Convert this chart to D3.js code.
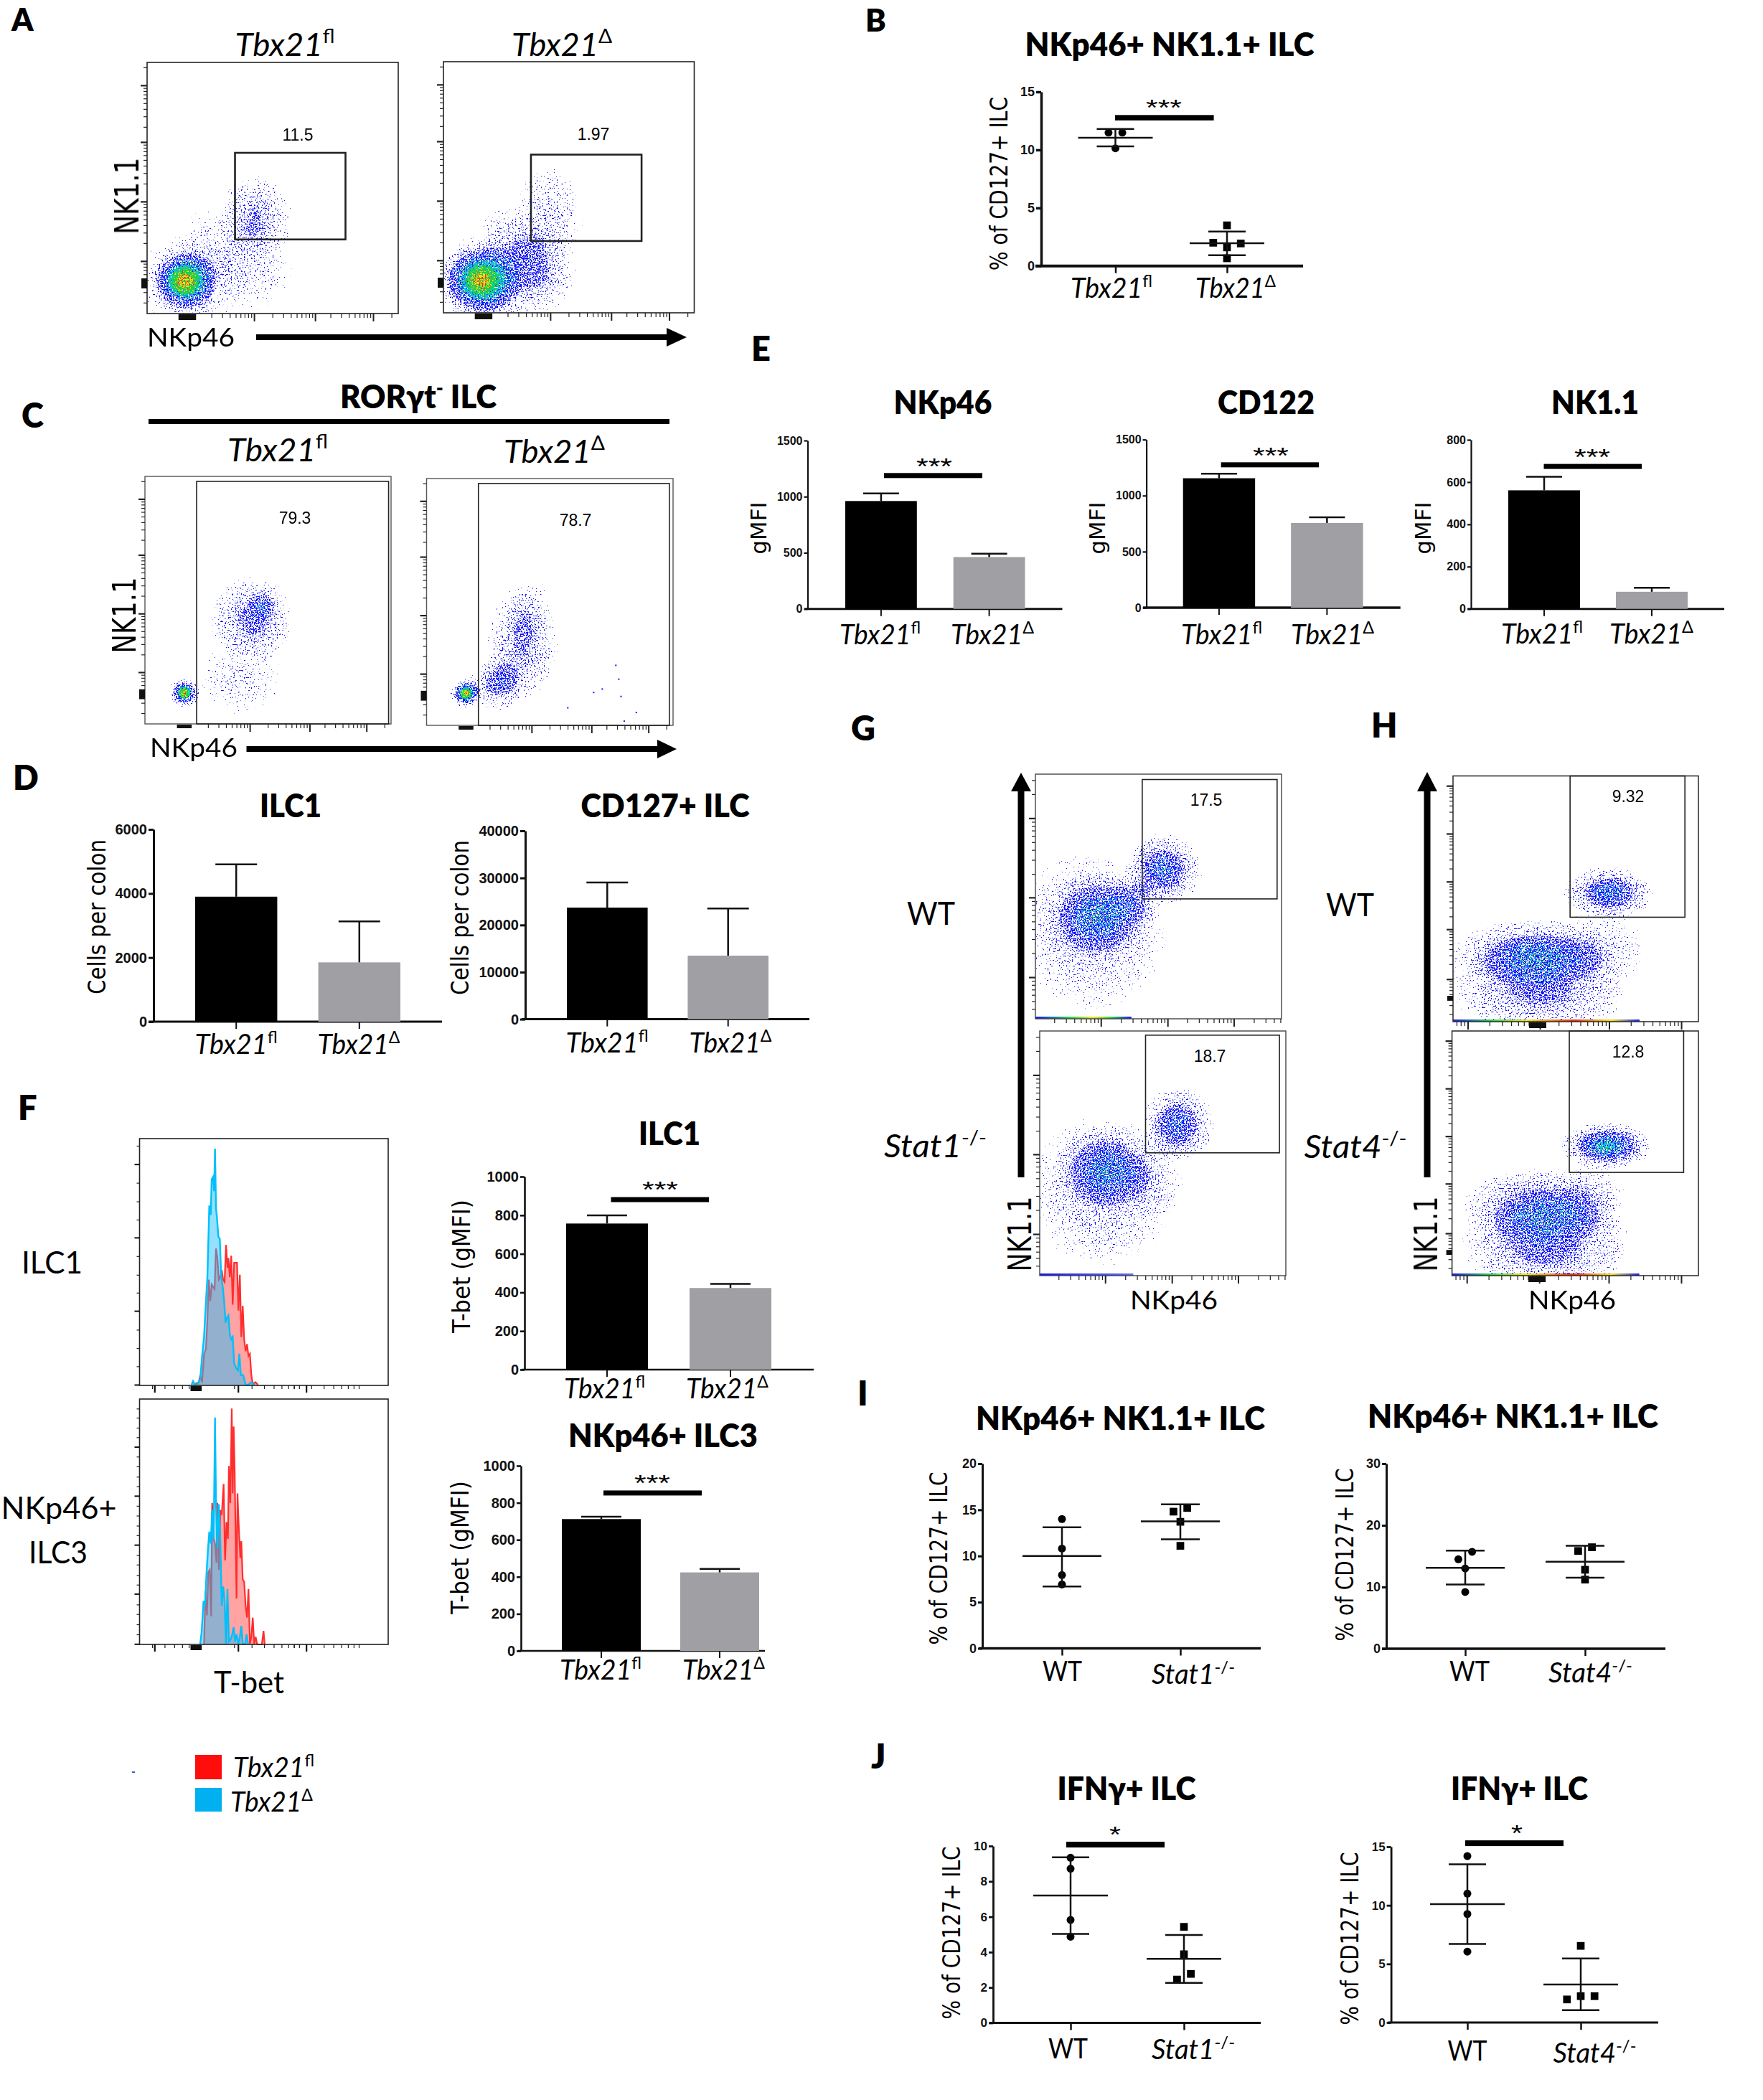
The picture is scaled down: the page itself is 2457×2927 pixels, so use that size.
<!DOCTYPE html>
<html><head><meta charset="utf-8">
<script src="https://cdn.jsdelivr.net/npm/d3@7/dist/d3.min.js"></script>
<style>html,body{margin:0;background:#fff}svg{display:block}</style></head><body>
<script>
/* ---------- DATA ---------- */
const tbxLabels=[["Tbx21",["fl"]],["Tbx21",["Δ"]]];
const stat1Labels=[["WT"],["Stat1",["-/-"]]];
const stat4Labels=[["WT"],["Stat4",["-/-"]]];

// bar charts: means and upper error-bar ends
const dIlc1Mean=[3900,1850],dIlc1Err=[4910,3130],dIlc1Ticks=[0,2000,4000,6000];
const dCd127Mean=[23700,13500],dCd127Err=[29050,23500],dCd127Ticks=[0,10000,20000,30000,40000];
const eNkp46Mean=[961,462],eNkp46Err=[1029,492],eNkp46Ticks=[0,500,1000,1500];
const eCd122Mean=[1155,756],eCd122Err=[1195,807],eCd122Ticks=[0,500,1000,1500];
const eNk11Mean=[561,81],eNk11Err=[625,100],eNk11Ticks=[0,200,400,600,800];
const fIlc1Mean=[757,423],fIlc1Err=[799,444],fIlc3Mean=[712,424],fIlc3Err=[725,443],fTicks=[0,200,400,600,800,1000];

// scatter charts: points [value, jitter rank], mean and SD ends
const bPts=[[[11.49,-1],[11.49,1],[10.14,0]],[[3.5,0],[2.0,-2],[1.94,2],[1.6,0],[0.66,0]]];
const bMean=[11.05,1.96],bHi=[11.8,2.97],bLo=[10.3,0.93],bTicks=[0,5,10,15];
const i1Pts=[[[14,0],[10.8,0],[7.94,0],[6.92,0]],[[15.2,1],[14.8,-1],[13.7,0],[11.1,0]]];
const i1Mean=[10,13.75],i1Hi=[13.1,15.6],i1Lo=[6.7,11.8],i1Ticks=[0,5,10,15,20];
const i2Pts=[[[15.7,1],[14.5,-1],[13,0],[9.2,0]],[[16.45,1],[15.84,-1],[12.8,0],[11.2,0]]];
const i2Mean=[13.1,14.1],i2Hi=[15.9,16.7],i2Lo=[10.4,11.5],i2Ticks=[0,10,20,30];
const j1Pts=[[[9.34,0],[8.72,0],[5.82,0],[4.87,0]],[[5.43,0],[3.88,0],[2.77,1],[2.45,-1]]];
const j1Mean=[7.2,3.62],j1Hi=[9.36,4.97],j1Lo=[5.03,2.26],j1Ticks=[0,2,4,6,8,10];
const j2Pts=[[[14.2,0],[11,0],[9.26,0],[6.05,0]],[[6.54,0],[2.25,0],[1.97,-2],[2.25,2]]];
const j2Mean=[10.1,3.25],j2Hi=[13.5,5.46],j2Lo=[6.7,1.05],j2Ticks=[0,5,10,15];

// histograms: [channel, plot-height reading]
const hist1Cyan=[[232,1050],[238,1035],[246,1050],[258,1045],[268,1025],[276,930],[284,850],[292,700],[298,600],[306,300],[312,340],[316,190],[322,180],[326,240],[330,62],[334,310],[338,350],[344,430],[350,440],[356,600],[362,640],[368,700],[374,790],[380,770],[386,760],[392,840],[398,860],[404,850],[410,960],[418,980],[426,990],[432,920],[438,1010],[448,1010],[458,1050],[470,1050],[480,1040],[495,1050]];
const hist1Red=[[240,1050],[250,1045],[262,1040],[268,1010],[276,1040],[284,920],[292,900],[298,780],[304,610],[310,700],[316,630],[322,640],[328,650],[334,480],[340,520],[346,610],[352,600],[358,570],[364,610],[370,620],[376,465],[382,560],[386,520],[392,600],[398,510],[404,715],[410,540],[416,540],[422,540],[428,740],[434,590],[440,850],[446,720],[452,860],[458,910],[464,880],[470,930],[476,920],[482,1010],[488,1045],[500,1040],[510,1050]];
const hist2Cyan=[[268,1040],[274,990],[282,860],[288,880],[294,750],[300,650],[306,570],[312,620],[318,480],[322,600],[326,450],[330,92],[334,450],[340,640],[346,455],[352,600],[358,880],[364,800],[370,860],[376,1040],[382,810],[388,1030],[396,1020],[402,1000],[408,970],[414,1030],[420,1000],[428,1040],[434,1010],[440,965],[446,1040],[456,1040],[462,1000],[468,1040]];
const hist2Red=[[284,1040],[290,820],[296,920],[302,740],[308,730],[314,925],[318,450],[324,600],[330,620],[336,700],[340,450],[346,730],[352,480],[358,500],[366,370],[372,690],[378,530],[384,600],[388,295],[394,450],[400,55],[404,410],[408,130],[412,300],[420,850],[424,410],[430,560],[436,680],[440,610],[446,770],[452,780],[458,880],[464,930],[470,810],[476,1040],[482,1010],[488,930],[494,1040],[500,1010],[506,1040],[512,1042],[526,1042],[533,985],[538,1042]];

// flow plots: population density: [x, y, rx, ry, density] on 0-100 axes
const a1Pops=[[18,13,22,19,.3],[15,13,14,13,.78],[15,13,6,6,.9],[43,38,15,17,.38],[41,19,17,18,.2],[27,28,15,15,.16]];
const a2Pops=[[15,13,17,15,.78],[15,13,6,6,.9],[20,13,24,20,.34],[38.5,18,15,18,.36],[42,39,14,20,.24],[27.5,29,14,14,.26]];
const c1Pops=[[16,12.6,6.5,6,.8],[16,12.6,2.6,2.6,.85],[43.7,42,17,18,.42],[48,48,7,7,.3],[39,18.5,17,15,.2]];
const c2Pops=[[16,13,6.5,6,.8],[16,13,2.6,2.6,.85],[29,17,12,11,.46],[38.5,32,15,22,.38],[41,46.5,10,14,.2]];
const g1Pops=[[23,36,31,33,.3],[26,42.6,23,18,.46],[52,61,16,15,.56],[40,48,12,11,.24]];
const g2Pops=[[25.7,34.6,30,32,.3],[27,44,21,18,.46],[56,61.6,15,16,.56],[45,38,14,16,.18]];
const h1Pops=[[33,28,34,14,.48],[35.4,15,37,22,.44],[63.6,52.5,19,11,.58],[60,30,18,18,.2]];
const h2Pops=[[35.6,28,33,16,.5],[38,12.6,35,20,.46],[62.6,53,19,10,.68],[55,30,16,17,.2]];
const c2Events=[[76.5,24.6],[77.7,19],[78.6,12],[67.5,13.6],[71,15],[84.8,5.5],[79.9,2],[57,7.4]];
// gates [x0, x1, y0, y1] on 0-100 axes and their percentages
const a1Gate=[35,79,29.5,64],a2Gate=[34.9,79,28.6,63],a1Pct="11.5",a2Pct="1.97";
const c1Gate=[21,99,-2,98],c2Gate=[21.03,98.5,-2,98],c1Pct="79.3",c2Pct="78.7";
const g1Gate=[43.4,98.2,49,97.8],g2Gate=[43,97.4,50.2,98.3],g1Pct="17.5",g2Pct="18.7";
const h1Gate=[47.7,94.5,42.5,100],h2Gate=[47.6,94,42.2,100],h1Pct="9.32",h2Pct="12.8";
// flow axes: decade positions on 0-100 axes
const fineX=[42.6,66.9,90],fineY=[20.9,44.6,68.3,90.9];
const gX=[26.6,53.7,80.6],gY=[17,49.6,82];
const hX=[6,35.4,63.6,93],hY=[17.3,37.6,57,76.5,96];

/* ---------- HELPERS ---------- */
const W=2457,H=2927;
const svg=d3.select("body").append("svg").attr("width",W).attr("height",H).attr("viewBox",`0 0 ${W} ${H}`);
svg.append("rect").attr("width",W).attr("height",H).attr("fill","#fff");
const defs=svg.append("defs");
const LATO="Lato, 'Open Sans', sans-serif",ARIAL="'Liberation Sans', Arial, sans-serif",DEJA="'DejaVu Sans', Verdana, sans-serif";

function T(parts,x,y,o={}){
  parts=Array.isArray(parts)?parts:[parts];
  const t=svg.append("text").attr("text-anchor",o.anchor||"middle")
    .attr("font-family",o.font||LATO).attr("font-size",o.size||36)
    .attr("font-weight",o.weight||"normal").attr("font-style",o.style||"normal").attr("fill",o.fill||"#000");
  let shifted=false;
  parts.forEach(p=>{
    const sup=Array.isArray(p);
    const s=t.append("tspan").text(sup?p[0]:p);
    if(sup){s.attr("font-size",(o.size||36)*.62).attr("dy",-(o.size||36)*.4).attr("font-style","normal");shifted=true;}
    else if(shifted){s.attr("dy",(o.size||36)*.4);shifted=false;}
  });
  let sx=1;
  if(o.w){sx=o.w/t.node().getComputedTextLength();}
  t.attr("transform",`translate(${x},${y}) rotate(${o.rot||0}) scale(${sx},1)`);
  return t;
}
const bold=(s,cx,base,w,size=45)=>T(s,cx,base,{weight:800,w,size});
const panel=(s,x,base,size=47)=>T(s,x,base,{weight:800,size,anchor:"start"});
const ylab=(s,cx,cy,len,size=33)=>T(s,cx,cy,{rot:-90,font:DEJA,size,w:len});
const ital=(p,cx,base,w,size=38)=>T(p,cx,base,{style:"italic",w,size});
const nk=(x,cy,w,size)=>T("NK1.1",x,cy,{rot:-90,font:DEJA,size,w});

function arrowH(x0,x1,y,head,half,th){
  svg.append("path").attr("d",`M${x0},${y-th/2}H${head}V${y-half}L${x1},${y}L${head},${y+half}V${y+th/2}H${x0}Z`).attr("fill","#000");
}
function arrowV(x,y0,y1,head,half,th){
  svg.append("path").attr("d",`M${x-th/2},${y0}V${head}H${x-half}L${x},${y1}L${x+half},${head}H${x+th/2}V${y0}Z`).attr("fill","#000");
}
const sigBar=(x0,x1,y,th)=>svg.append("rect").attr("x",x0).attr("y",y-th/2).attr("width",x1-x0).attr("height",th).attr("fill","#000");
const stars=(s,cx,cy,w)=>T(s,cx,cy+15,{font:ARIAL,size:32,w});

function dress(g,stroke,fontSize,fam){
  g.selectAll("path.domain,line").attr("stroke","#111").attr("stroke-width",stroke);
  g.selectAll("text").attr("font-family",fam||ARIAL).attr("font-weight","bold").attr("font-size",fontSize).attr("fill","#111");
}

function frameAxes(c){
  const y=d3.scaleLinear().domain([0,c.max]).range([c.y0,c.yTop]);
  const ga=svg.append("g").attr("transform",`translate(${c.axX},0)`)
    .call(d3.axisLeft(y).tickValues(c.ticks).tickFormat(d3.format("d")).tickSize(c.tick||6).tickSizeOuter(0).tickPadding(2));
  dress(ga,c.sw||2.5,c.fs||18);
  svg.append("line").attr("x1",c.xStart).attr("x2",c.xEnd).attr("y1",c.y0).attr("y2",c.y0).attr("stroke","#111").attr("stroke-width",c.xsw||c.sw||3);
  return y;
}

function barChart(c){
  const y=frameAxes(c);
  const dom=[0,1];
  const x=d3.scaleBand().domain(dom).range([c.b0,c.b1]).paddingInner(c.gap/(c.barW+c.gap)).paddingOuter(0);
  const ax=svg.append("g").attr("transform",`translate(0,${c.y0})`).call(d3.axisBottom(x).tickSize(10).tickSizeOuter(0).tickFormat(""));
  ax.select("path.domain").remove();ax.selectAll("line").attr("stroke","#111").attr("stroke-width",2);
  svg.append("g").selectAll("rect").data(c.mean).join("rect")
    .attr("x",(d,i)=>x(i)).attr("width",x.bandwidth()).attr("y",d=>y(d)).attr("height",d=>c.y0-y(d))
    .attr("fill",(d,i)=>i?"#a0a0a4":"#000");
  const e=svg.append("g").attr("stroke","#111").attr("stroke-width",2.5);
  c.err.forEach((v,i)=>{
    const cx=x(i)+x.bandwidth()/2;
    e.append("line").attr("x1",cx).attr("x2",cx).attr("y1",y(v)).attr("y2",y(c.mean[i]));
    e.append("line").attr("x1",cx-c.cap).attr("x2",cx+c.cap).attr("y1",y(v)).attr("y2",y(v));
  });
  if(c.sig){sigBar(c.sig[0],c.sig[1],y(c.sig[2]),7);stars("***",c.star[0],y(c.sig[2])-c.star[1],50);}
  return y;
}

function dotChart(c){
  const y=frameAxes(c);
  const x=d3.scalePoint().domain([0,1]).range([c.g0,c.g1]);
  const ax=svg.append("g").attr("transform",`translate(0,${c.y0})`).call(d3.axisBottom(x).tickSize(10).tickSizeOuter(0).tickFormat(""));
  ax.select("path.domain").remove();ax.selectAll("line").attr("stroke","#111").attr("stroke-width",2.5);
  const sym=[d3.symbol().type(d3.symbolCircle).size(95),d3.symbol().type(d3.symbolSquare).size(115)];
  c.pts.forEach((ser,i)=>{
    svg.append("g").selectAll("path").data(ser).join("path").attr("d",sym[i]())
      .attr("transform",d=>`translate(${x(i)+d[1]*9.6},${y(d[0])})`).attr("fill","#000");
    const g=svg.append("g").attr("stroke","#111").attr("stroke-width",2.5),cx=x(i);
    g.append("line").attr("x1",cx).attr("x2",cx).attr("y1",y(c.hi[i])).attr("y2",y(c.lo[i]));
    g.append("line").attr("x1",cx-c.mw).attr("x2",cx+c.mw).attr("y1",y(c.mean[i])).attr("y2",y(c.mean[i]));
    [c.hi[i],c.lo[i]].forEach(v=>g.append("line").attr("x1",cx-c.cw).attr("x2",cx+c.cw).attr("y1",y(v)).attr("y2",y(v)));
  });
  if(c.sig){sigBar(c.sig[0],c.sig[1],y(c.sig[2]),c.sigTh||8);stars(c.starTxt,c.star[0],y(c.sig[2])-c.star[1],c.starW);}
  return y;
}

let fid=0;
const grad=defs.append("radialGradient").attr("id","blob");
[[0,1],[.3,.85],[.6,.52],[.85,.22],[1,0]].forEach(s=>grad.append("stop").attr("offset",s[0]).attr("stop-color","#fff").attr("stop-opacity",s[1]));
// [gain, threshold, colour]
const LEVELS=[[1.2,0,"#1010f5"],[2,.82,"#00c4f0"],[2,1.0,"#1fd04a"],[2,1.4,"#eee21a"],[2,1.6,"#ee2a10"]];

function minors(majors){
  const dec=majors[1]-majors[0],out=[];
  majors.concat([majors[majors.length-1]+dec]).forEach(m=>{
    for(let k=2;k<10;k++){const v=m-dec+dec*Math.log10(k);if(v>0&&v<100)out.push(v);}
  });
  return out;
}

function flow(c){
  const id="f"+(++fid);
  const x=d3.scaleLinear().domain([0,100]).range([c.L,c.R]);
  const y=d3.scaleLinear().domain([0,100]).range([c.B,c.T]);
  // stipple filter: density field -> levels of coloured events
  const f=defs.append("filter").attr("id",id).attr("filterUnits","userSpaceOnUse")
    .attr("x",c.L).attr("y",c.T).attr("width",c.R-c.L).attr("height",c.B-c.T)
    .attr("color-interpolation-filters","sRGB");
  f.append("feTurbulence").attr("type","fractalNoise").attr("baseFrequency",.5).attr("numOctaves",1).attr("seed",fid*7+3).attr("result","t");
  f.append("feColorMatrix").attr("in","t").attr("type","matrix").attr("values","0 0 0 0 1 0 0 0 0 1 0 0 0 0 1 1.6 0 0 0 -.2").attr("result","n");
  // second texture keeps white flecks between the blue events
  f.append("feTurbulence").attr("type","fractalNoise").attr("baseFrequency",.55).attr("numOctaves",1).attr("seed",fid*11+5).attr("result","t2");
  f.append("feColorMatrix").attr("in","t2").attr("type","matrix").attr("values","0 0 0 0 1 0 0 0 0 1 0 0 0 0 1 14 0 0 0 -6").attr("result","cap");
  const names=[];
  LEVELS.forEach((l,i)=>{
    f.append("feComposite").attr("in","SourceAlpha").attr("in2","n").attr("operator","arithmetic")
      .attr("k1",0).attr("k2",l[0]).attr("k3",1).attr("k4",-1-l[1]).attr("result","a"+i);
    f.append("feComponentTransfer").attr("in","a"+i).attr("result","b"+i).append("feFuncA").attr("type","linear").attr("slope",30).attr("intercept",0);
    f.append("feFlood").attr("flood-color",l[2]).attr("result","c"+i);
    f.append("feComposite").attr("in","c"+i).attr("in2","b"+i).attr("operator","in").attr("result","d"+i);
    if(i===0){
      f.append("feComposite").attr("in","d0").attr("in2","cap").attr("operator","in").attr("result","e0");
      names.push("e0");
    } else names.push("d"+i);
  });
  const mg=f.append("feMerge");names.forEach(n=>mg.append("feMergeNode").attr("in",n));

  svg.append("g").attr("filter",`url(#${id})`).selectAll("ellipse").data(c.pops).join("ellipse")
    .attr("cx",d=>x(d[0])).attr("cy",d=>y(d[1])).attr("rx",d=>x(d[2])-x(0)).attr("ry",d=>y(0)-y(d[3]))
    .attr("fill","url(#blob)").attr("opacity",d=>d[4]);
  if(c.events) svg.append("g").selectAll("rect").data(c.events).join("rect")
    .attr("x",d=>x(d[0])).attr("y",d=>y(d[1])).attr("width",2).attr("height",2).attr("fill","#1414ff");
  if(c.pile){
    const gid=id+"p",lg=defs.append("linearGradient").attr("id",gid);
    c.pile.stops.forEach(s=>lg.append("stop").attr("offset",s[0]).attr("stop-color",s[1]));
    svg.append("rect").attr("x",x(0)).attr("y",c.B-3).attr("width",x(c.pile.end)-x(0)).attr("height",3).attr("fill",`url(#${gid})`);
  }
  // frame
  svg.append("rect").attr("x",c.L).attr("y",c.T).attr("width",c.R-c.L).attr("height",c.B-c.T)
    .attr("fill","none").attr("stroke",c.fc||"#222").attr("stroke-width",c.fw||1.6);
  // axes
  const minX=minors(c.xMaj),minY=minors(c.yMaj);
  const fmt=g=>{g.select("path.domain").remove();g.selectAll("line").attr("stroke","#222");};
  svg.append("g").attr("transform",`translate(0,${c.B})`).call(d3.axisBottom(x).tickValues(minX).tickSize(6).tickFormat("")).call(fmt).selectAll("line").attr("stroke-width",1.2);
  svg.append("g").attr("transform",`translate(0,${c.B})`).call(d3.axisBottom(x).tickValues(c.xMaj).tickSize(11).tickFormat("")).call(fmt).selectAll("line").attr("stroke-width",2);
  svg.append("g").attr("transform",`translate(${c.L},0)`).call(d3.axisLeft(y).tickValues(minY).tickSize(5).tickFormat("")).call(fmt).selectAll("line").attr("stroke-width",1.2);
  svg.append("g").attr("transform",`translate(${c.L},0)`).call(d3.axisLeft(y).tickValues(c.yMaj).tickSize(9).tickFormat("")).call(fmt).selectAll("line").attr("stroke-width",2.2);
  if(c.xZero) svg.append("rect").attr("x",x(c.xZero[0])).attr("y",c.B+1).attr("width",x(c.xZero[1])-x(c.xZero[0])).attr("height",c.zh||8).attr("fill","#111");
  if(c.yZero) svg.append("rect").attr("x",c.L-8).attr("y",y(c.yZero[1])).attr("width",8).attr("height",y(c.yZero[0])-y(c.yZero[1])).attr("fill","#111");
  // gate
  const gt=c.gate;
  const y1=Math.min(y(gt[2]),c.B),y0=Math.max(y(gt[3]),c.T);
  svg.append("rect").attr("x",x(gt[0])).attr("y",y0).attr("width",x(gt[1])-x(gt[0])).attr("height",y1-y0)
    .attr("fill","none").attr("stroke","#222").attr("stroke-width",c.gw||2);
  T(c.pct,c.pctAt[0],c.pctAt[1],{font:ARIAL,size:23});
}

/* ---------- PANEL A ---------- */
panel("A",16,43,43);
ital(["Tbx21",["fl"]],397,78,139,44);
ital(["Tbx21",["Δ"]],783,78,140,44);
flow({L:205,R:555,T:87,B:437,pops:a1Pops,gate:a1Gate,pct:a1Pct,pctAt:[415,196],xMaj:fineX,yMaj:fineY,xZero:[12.5,19.5],yZero:[10,14],gw:2.6});
flow({L:618,R:967.5,T:86,B:436,pops:a2Pops,gate:a2Gate,pct:a2Pct,pctAt:[827,195],xMaj:fineX,yMaj:fineY,xZero:[12.5,19.5],yZero:[10,14],gw:2.6});
nk(193,273,107,46);
T("NKp46",266,483,{size:36,w:122});
arrowH(357,957,470,929,13,8);

/* ---------- PANEL B ---------- */
panel("B",1206,44,43);
bold("NKp46+ NK1.1+ ILC",1630,78,403);
dotChart({axX:1451,xStart:1443,xEnd:1816,y0:370.7,yTop:128,max:15,ticks:bTicks,fs:18,sw:3.5,xsw:4,tick:7,
  g0:1554.5,g1:1710,pts:bPts,mean:bMean,hi:bHi,lo:bLo,mw:52,cw:26,sig:[1554,1691.6,12.77],sigTh:7.5,starTxt:"***",star:[1622,18],starW:50});
ylab("% of CD127+ ILC",1404,256,242);
ital(tbxLabels[0],1549,415,114);ital(tbxLabels[1],1722,415,112);

/* ---------- PANEL C ---------- */
panel("C",30,596);
T(["RORγt",["-"]," ILC"],583,569,{weight:800,size:45,w:218});
svg.append("rect").attr("x",207).attr("y",584).attr("width",726).attr("height",7);
ital(["Tbx21",["fl"]],387,643,140,44);
ital(["Tbx21",["Δ"]],772.5,645,141,44);
flow({L:202,R:545,T:664,B:1009,pops:c1Pops,gate:c1Gate,pct:c1Pct,pctAt:[411,730],xMaj:fineX,yMaj:fineY,xZero:[13,19],yZero:[10,14],fc:"#555",fw:1.4,zh:5,gw:1.6});
flow({L:594.5,R:938,T:667,B:1011,pops:c2Pops,gate:c2Gate,pct:c2Pct,pctAt:[802,733],xMaj:fineX,yMaj:fineY,xZero:[13,19],yZero:[10,14],fc:"#555",fw:1.4,zh:5,gw:1.6,events:c2Events});
nk(189,857.5,106,44);
T("NKp46",270,1055,{size:36,w:122});
arrowH(343.5,943,1044,916,13,8);

/* ---------- PANEL D ---------- */
panel("D",18,1101);
bold("ILC1",405,1139,86);bold("CD127+ ILC",927,1139,235);
barChart({axX:214,xStart:207,xEnd:616,y0:1424,yTop:1156,max:6000,ticks:dIlc1Ticks,fs:20,sw:3,tick:7,
  b0:272,b1:558,barW:114,gap:57,mean:dIlc1Mean,err:dIlc1Err,cap:29});
barChart({axX:732,xStart:727,xEnd:1128,y0:1420.6,yTop:1158,max:40000,ticks:dCd127Ticks,fs:20,sw:3,tick:7,
  b0:790,b1:1071,barW:113,gap:56,mean:dCd127Mean,err:dCd127Err,cap:29});
ylab("Cells per colon",147,1278,216);ylab("Cells per colon",653,1279,216);
ital(tbxLabels[0],329,1469,115);ital(tbxLabels[1],500,1469,115);
ital(tbxLabels[0],846,1467,115);ital(tbxLabels[1],1018,1467,115);

/* ---------- PANEL E ---------- */
panel("E",1047,503);
bold("NKp46",1314,577,137);bold("CD122",1764.5,577,135);bold("NK1.1",2223,577,122);
const starE=17;
barChart({axX:1125.5,xStart:1121,xEnd:1480.5,y0:848.7,yTop:614,max:1500,ticks:eNkp46Ticks,fs:16,sw:2.2,xsw:3,tick:5,
  b0:1178,b1:1428.5,barW:100,gap:51,mean:eNkp46Mean,err:eNkp46Err,cap:25,sig:[1232,1369,1188],star:[1302,starE]});
barChart({axX:1597.6,xStart:1593,xEnd:1951.7,y0:847,yTop:612.7,max:1500,ticks:eCd122Ticks,fs:16,sw:2.2,xsw:3.5,tick:5,
  b0:1648.7,b1:1899.6,barW:100.5,gap:50,mean:eCd122Mean,err:eCd122Err,cap:25,sig:[1701.7,1838,1275],star:[1771,starE]});
barChart({axX:2050,xStart:2045.5,xEnd:2403,y0:848.7,yTop:613,max:800,ticks:eNk11Ticks,fs:16,sw:2.2,xsw:3,tick:5,
  b0:2102,b1:2352,barW:100,gap:50,mean:eNk11Mean,err:eNk11Err,cap:25,sig:[2151.5,2288,674],star:[2219,starE]});
ylab("gMFI",1068,736,73,30);ylab("gMFI",1540,736,73,30);ylab("gMFI",1994,736,73,30);
ital(tbxLabels[0],1226.5,898,113);ital(tbxLabels[1],1383,898,116);
ital(tbxLabels[0],1702.5,898,113);ital(tbxLabels[1],1857,898,116);
ital(tbxLabels[0],2149,897,114);ital(tbxLabels[1],2301.5,897,117);

/* ---------- PANEL F ---------- */
panel("F",25,1561);
T("ILC1",72.5,1775,{size:42,w:85});T("NKp46+",82,2117,{size:42,w:161});T("ILC3",81,2179,{size:42,w:82});
T("T-bet",347,2360,{size:42,w:98});

function hist(c){
  const x=d3.scaleLinear().domain([14,1055]).range([c.L,c.R]);
  const y=d3.scaleLinear().domain([c.base,c.top]).range([c.B,c.T]);
  const area=d3.area().x(d=>x(d[0])).y0(c.B).y1(d=>y(d[1]));
  const line=d3.line().x(d=>x(d[0])).y(d=>y(d[1]));
  const g=svg.append("g");
  g.append("path").attr("d",area(c.red)).attr("fill","#ffa3a3");
  g.append("path").attr("d",line(c.red)).attr("fill","none").attr("stroke","#ff2e2e").attr("stroke-width",2.2);
  g.append("path").attr("d",area(c.cyan)).attr("fill","rgb(29,190,255)").attr("fill-opacity",.48);
  g.append("path").attr("d",line(c.cyan)).attr("fill","none").attr("stroke","#00c0fa").attr("stroke-width",2.4);
  svg.append("rect").attr("x",c.L).attr("y",c.T).attr("width",c.R-c.L).attr("height",c.B-c.T).attr("fill","none").attr("stroke","#222").attr("stroke-width",1.6);
  const px=d3.scaleLinear().domain([0,100]).range([c.L,c.R]);
  const fmt=s=>s.select("path.domain").remove();
  const a=svg.append("g").attr("transform",`translate(0,${c.B})`).call(d3.axisBottom(px).tickValues(minors([26,66,90])).tickSize(5).tickFormat("")).call(fmt);a.selectAll("line").attr("stroke","#222").attr("stroke-width",1.2);
  const b=svg.append("g").attr("transform",`translate(0,${c.B})`).call(d3.axisBottom(px).tickValues([6,39.6,67])).call(g=>g.selectAll("text").remove()).call(fmt);b.selectAll("line").attr("stroke","#111").attr("stroke-width",2.2).attr("y2",10);
  svg.append("rect").attr("x",px(20.5)).attr("y",c.B+1).attr("width",px(25)-px(20.5)).attr("height",7).attr("fill","#111");
  const yt=svg.append("g").attr("transform",`translate(${c.L},0)`).call(d3.axisLeft(y).tickValues(c.yMin).tickSize(4).tickFormat("")).call(fmt);yt.selectAll("line").attr("stroke","#222").attr("stroke-width",1.2);
  const ym=svg.append("g").attr("transform",`translate(${c.L},0)`).call(d3.axisLeft(y).tickValues(c.yMaj).tickSize(7).tickFormat("")).call(fmt);ym.selectAll("line").attr("stroke","#111").attr("stroke-width",2);
}
const hist1MinorTicks=[50,205,283,359,512,590,665,820,897,973],hist1MajorTicks=[127,434,741,1050];
const hist2MinorTicks=[55,93,135,175,256,297,340,380,462,503,545,585,668,708,752,792,875,915,958,1000],hist2MajorTicks=[215,420,625,830,1040];
hist({L:194.5,R:541,T:1587,B:1931,base:1053,top:20,red:hist1Red,cyan:hist1Cyan,yMin:hist1MinorTicks,yMaj:hist1MajorTicks});
hist({L:194.5,R:541,T:1950,B:2292,base:1042,top:15,red:hist2Red,cyan:hist2Cyan,yMin:hist2MinorTicks,yMaj:hist2MajorTicks});

bold("ILC1",933,1596,86);bold("NKp46+ ILC3",924,2017,264);
barChart({axX:731,xStart:727,xEnd:1134,y0:1909,yTop:1640,max:1000,ticks:fTicks,fs:20,sw:2.6,tick:6,
  b0:789,b1:1075,barW:114,gap:58,mean:fIlc1Mean,err:fIlc1Err,cap:28,sig:[851.5,988,881],star:[920,18]});
barChart({axX:726,xStart:722,xEnd:1066,y0:2301,yTop:2043,max:1000,ticks:fTicks,fs:20,sw:2.6,tick:6,
  b0:783,b1:1058,barW:110,gap:55,mean:fIlc3Mean,err:fIlc3Err,cap:28,sig:[841,978,853],star:[909,18]});
ylab("T-bet (gMFI)",655,1765,186);ylab("T-bet (gMFI)",653,2157,186);
ital(tbxLabels[0],842.5,1949,113);ital(tbxLabels[1],1013.5,1949,115);
ital(tbxLabels[0],837,2341,114);ital(tbxLabels[1],1008.5,2341,115);

// legend
svg.append("rect").attr("x",272).attr("y",2446).attr("width",37).attr("height",34).attr("fill","#ff0d0d");
svg.append("rect").attr("x",272).attr("y",2492).attr("width",37).attr("height",33).attr("fill","#00b0f0");
svg.append("rect").attr("x",184).attr("y",2469).attr("width",4).attr("height",2).attr("fill","#3a62c0");
ital(tbxLabels[0],381.5,2477,113);ital(tbxLabels[1],378.5,2525,115);

/* ---------- PANEL G ---------- */
panel("G",1186,1032);
flow({L:1443,R:1786,T:1079,B:1420,pops:g1Pops,gate:g1Gate,pct:g1Pct,pctAt:[1681,1123],xMaj:gX,yMaj:gY,fc:"#444",fw:1.4,gw:1.6,
  pile:{end:39,stops:[[0,"#1414ff"],[.35,"#1fd04a"],[.6,"#eee21a"],[.8,"#1fd04a"],[1,"#1414ff"]]}});
flow({L:1449,R:1792,T:1437,B:1778,pops:g2Pops,gate:g2Gate,pct:g2Pct,pctAt:[1686,1480],xMaj:gX,yMaj:gY,fc:"#444",fw:1.4,gw:1.6,
  pile:{end:38,stops:[[0,"#1414ff"],[1,"#6666ff"]]}});
arrowV(1423,1641,1077,1103,14,9);
nk(1437,1720,105,44);
T("NKp46",1636,1825,{size:36,w:122});
T("WT",1297.5,1289,{size:44,w:67});
T(["Stat1",["-/-"]],1303.5,1613,{style:"italic",size:44,w:143});

/* ---------- PANEL H ---------- */
panel("H",1911,1028);
const hPile=[[0,"#1414ff"],[.2,"#1fd04a"],[.4,"#eee21a"],[.65,"#ee2a10"],[.85,"#eee21a"],[1,"#1414ff"]];
flow({L:2025,R:2367,T:1081.5,B:1424,pops:h1Pops,gate:h1Gate,pct:h1Pct,pctAt:[2269,1118],xMaj:hX,yMaj:hY,xZero:[31,38],yZero:[8.5,10.5],fc:"#333",fw:1.6,gw:1.6,pile:{end:76,stops:hPile}});
flow({L:2023.6,R:2367,T:1437,B:1778,pops:h2Pops,gate:h2Gate,pct:h2Pct,pctAt:[2269,1474],xMaj:hX,yMaj:hY,xZero:[31,38],yZero:[8.5,10.5],fc:"#333",fw:1.6,gw:1.6,pile:{end:76,stops:hPile}});
arrowV(1989,1641,1076,1103,14,9);
nk(2003,1720,105,44);
T("NKp46",2191,1825,{size:36,w:122});
T("WT",1881.5,1277,{size:44,w:67});
T(["Stat4",["-/-"]],1889,1614,{style:"italic",size:44,w:143});

/* ---------- PANEL I ---------- */
panel("I",1195,1959);
bold("NKp46+ NK1.1+ ILC",1561.5,1993,403);bold("NKp46+ NK1.1+ ILC",2108.5,1990,405);
dotChart({axX:1369,xStart:1364,xEnd:1757,y0:2297.5,yTop:2040,max:20,ticks:i1Ticks,fs:18,sw:3,xsw:3.5,tick:6,
  g0:1480,g1:1645,pts:i1Pts,mean:i1Mean,hi:i1Hi,lo:i1Lo,mw:55,cw:27});
dotChart({axX:1932,xStart:1926,xEnd:2321,y0:2298,yTop:2040,max:30,ticks:i2Ticks,fs:18,sw:3,xsw:3.5,tick:6,
  g0:2042,g1:2209,pts:i2Pts,mean:i2Mean,hi:i2Hi,lo:i2Lo,mw:55,cw:27});
ylab("% of CD127+ ILC",1320,2172,241);ylab("% of CD127+ ILC",1886,2167,241);
T("WT",1480.5,2343,{size:38,w:55});ital(stat1Labels[1],1663,2347,116);
T("WT",2048,2343,{size:38,w:56});ital(stat4Labels[1],2216.5,2345,117);

/* ---------- PANEL J ---------- */
panel("J",1214,2465);
bold("IFNγ+ ILC",1570,2509,193);bold("IFNγ+ ILC",2117.5,2509,191);
dotChart({axX:1384,xStart:1379,xEnd:1757,y0:2819.5,yTop:2573,max:10,ticks:j1Ticks,fs:17,sw:2.8,xsw:3,tick:6,
  g0:1492,g1:1650,pts:j1Pts,mean:j1Mean,hi:j1Hi,lo:j1Lo,mw:52,cw:26,sig:[1486,1623,10.08],starTxt:"*",star:[1554,18],starW:16});
dotChart({axX:1938.6,xStart:1934,xEnd:2311,y0:2819,yTop:2574,max:15,ticks:j2Ticks,fs:17,sw:2.8,xsw:3,tick:6,
  g0:2045,g1:2203,pts:j2Pts,mean:j2Mean,hi:j2Hi,lo:j2Lo,mw:52,cw:26,sig:[2042,2179,15.3],starTxt:"*",star:[2114,18],starW:16});
ylab("% of CD127+ ILC",1338,2694,241);ylab("% of CD127+ ILC",1893,2702,241);
T("WT",1488.5,2869,{size:38,w:55});ital(stat1Labels[1],1663,2870,116);
T("WT",2045,2872,{size:38,w:55});ital(stat4Labels[1],2222.5,2875,116);
</script>
</body></html>
